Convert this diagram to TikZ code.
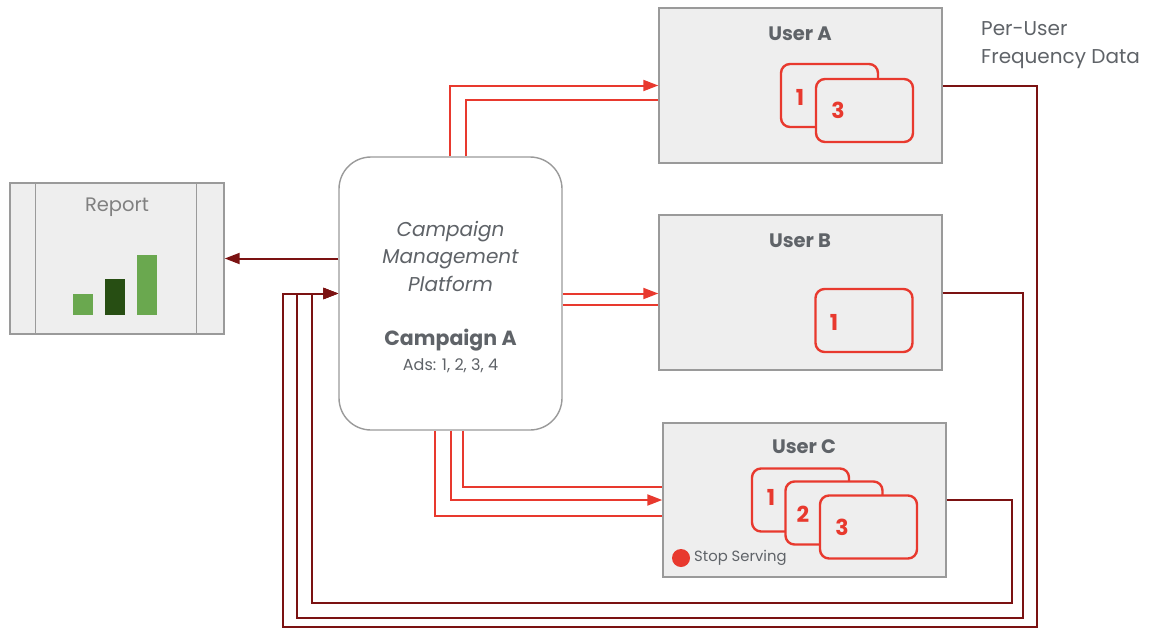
\documentclass[tikz,border=0pt]{standalone}
\usepackage{fontspec}
\setmainfont{Poppins}
\usetikzlibrary{arrows.meta,calc}
\definecolor{adred}{HTML}{E8392E}
\definecolor{fbred}{HTML}{7B1212}
\definecolor{boxfill}{HTML}{EEEEEE}
\definecolor{boxline}{HTML}{9A9A9A}
\definecolor{txt}{HTML}{5F6368}
\definecolor{barlight}{HTML}{6AA84F}
\definecolor{bardark}{HTML}{274E13}
\tikzset{
  userbox/.style={draw=boxline, line width=1.4pt, fill=boxfill, minimum width=283pt, minimum height=155pt, inner sep=0pt},
  adcard/.style={draw=adred, line width=2.4pt, fill=boxfill, rounded corners=9pt, minimum width=97pt, minimum height=63pt, inner sep=0pt},
  adnum/.style={text=adred, font=\fontsize{22}{24}\selectfont\bfseries, inner sep=0pt},
  title/.style={text=txt, font=\fontsize{19.5}{22}\selectfont\bfseries, inner sep=0pt},
  adflow/.style={draw=adred, line width=2pt},
  feedback/.style={draw=fbred, line width=2pt},
  tip/.style={-{Triangle[length=15pt,width=11pt]}},
}
\begin{document}
\begin{tikzpicture}[x=1pt,y=-1pt]
\useasboundingbox (0,0) rectangle (1154,629);

% Report panel with bar chart
\node[draw=boxline, line width=1.4pt, fill=boxfill, minimum width=214pt, minimum height=151pt, inner sep=0pt] (report) at (117,258.5) {};
\draw[boxline, line width=1.4pt] ([xshift=26pt]report.north west) -- ([xshift=26pt]report.south west);
\draw[boxline, line width=1.4pt] ([xshift=-28pt]report.north east) -- ([xshift=-28pt]report.south east);
\node[text=gray, font=\fontsize{19.5}{22}\selectfont, inner sep=0pt] (reporttitle) at (117,207) {Report};
\fill[barlight] (73,294) rectangle (93,315);
\fill[bardark] (105,279) rectangle (125,315);
\fill[barlight] (137,255) rectangle (157,315);

% Campaign management platform
\node[draw=boxline, line width=1.4pt, fill=white, rounded corners=32pt, minimum width=223pt, minimum height=273pt, inner sep=0pt] (platform) at (450.5,293.5) {};
\node[text=txt, align=center, font=\fontsize{20}{27.5}\selectfont\itshape, inner sep=0pt] (ptitle) at (450.5,256) {Campaign\\Management\\Platform};
\node[text=txt, font=\fontsize{20.5}{24}\selectfont\bfseries, inner sep=0pt] (camp) at (450.5,340) {Campaign A};
\node[text=txt, font=\fontsize{16}{20}\selectfont, inner sep=0pt] (ads) at (450.5,366) {Ads: 1, 2, 3, 4};

% Users
\node[userbox] (userA) at (800.5,85.5) {};
\node[title] (userAt) at (800,34) {User A};
\node[adcard] (a1) at (829.5,95.5) {};
\node[adnum] (a1n) at (800,97) {1};
\node[adcard] (a3) at (864.5,110.5) {};
\node[adnum] (a3n) at (838,110) {3};

\node[userbox] (userB) at (800.5,292.5) {};
\node[title] (userBt) at (800,241) {User B};
\node[adcard] (b1) at (864,320.5) {};
\node[adnum] (b1n) at (834,322) {1};

\node[userbox, minimum height=154pt] (userC) at (804.5,500) {};
\node[title] (userCt) at (804,447) {User C};
\node[adcard] (c1) at (800.5,500) {};
\node[adnum] (c1n) at (771,497) {1};
\node[adcard] (c2) at (834,513) {};
\node[adnum] (c2n) at (803,514) {2};
\node[adcard] (c3) at (868.5,527) {};
\node[adnum] (c3n) at (842,527) {3};
\fill[adred] (681,558) circle (9pt);
\node[text=txt, anchor=west, font=\fontsize{14.8}{18}\selectfont, inner sep=0pt] (stop) at (694,558) {Stop Serving};

\node[text=txt, anchor=north west, align=left, font=\fontsize{20}{28}\selectfont, inner sep=0pt] (freq) at (981,21) {Per-User\\Frequency Data};

% Ads delivered to each user
\draw[adflow, tip] ([xshift=-0.5pt]platform.north) |- (userA.west);
\draw[adflow] ([xshift=15.5pt]platform.north) |- ([yshift=-14pt]userA.west);
\draw[adflow, tip] (platform.east) -- (platform.east -| userB.west);
\draw[adflow] ([yshift=-11pt]platform.east) -- ([yshift=-11pt]platform.east -| userB.west);
\draw[adflow] ([xshift=12.5pt]platform.south) |- ([yshift=13pt]userC.west);
\draw[adflow, tip] (platform.south) |- (userC.west);
\draw[adflow] ([xshift=-15.5pt]platform.south) |- ([yshift=-16pt]userC.west);

% Frequency data returned to the platform
\coordinate (ra) at (1037,627);
\coordinate (la) at (283,293.5);
\coordinate (rb) at (1023,618);
\coordinate (lb) at (296.5,293.5);
\coordinate (rc) at (1012,603);
\coordinate (lc) at (312,293.5);
\draw[feedback, tip] (userA.east) -| (ra) -| (la) -- (platform.west);
\draw[feedback, tip] (userB.east) -| (rb) -| (lb) -- (platform.west);
\draw[feedback, tip] (userC.east) -| (rc) -| (lc) -- (platform.west);

% Report generated from the platform
\draw[feedback, tip] (report.east -| platform.west) -- (report.east);
\end{tikzpicture}
\end{document}
